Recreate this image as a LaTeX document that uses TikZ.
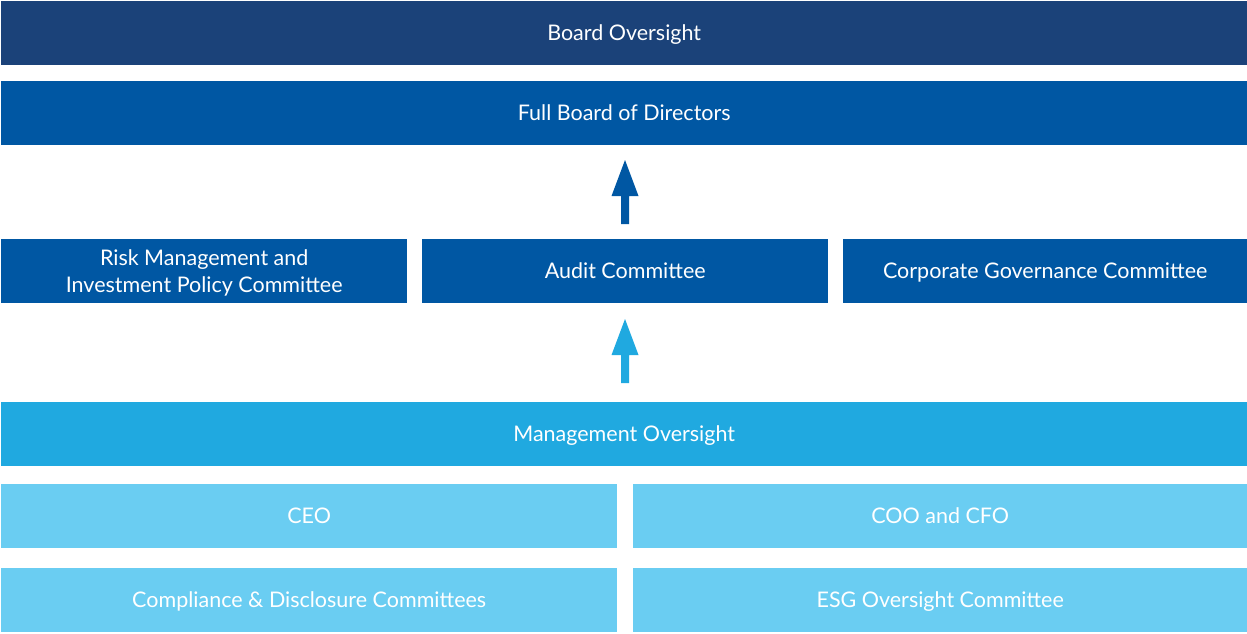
\documentclass[tikz,border=0pt]{standalone}
\usepackage{fontspec}
\setmainfont{Lato}
\definecolor{navy}{HTML}{1B4279}
\definecolor{blue}{HTML}{0057A3}
\definecolor{sky}{HTML}{20A9E0}
\definecolor{light}{HTML}{6ACDF2}
\tikzset{
  box/.style={fill=#1, text=white, font=\fontsize{21.5}{27}\selectfont, align=center, inner sep=0pt, anchor=north west, text height=15.5pt, text depth=0pt}
}
\begin{document}
\begin{tikzpicture}[x=1pt,y=-1pt]
\useasboundingbox (0,0) rectangle (1247,633);
\newcommand{\bx}[8][]{\node[box=#8, minimum width={(#4-#2)*1pt}, minimum height={(#5-#3)*1pt}, #1] (#6) at (#2,#3) {#7};}
\bx{1}{1}{1247}{65}{board}{Board Oversight}{navy}
\bx{1}{81}{1247}{145}{full}{Full Board of Directors}{blue}
\bx[text height=42.5pt]{1}{239}{407}{303}{risk}{Risk Management and\\Investment Policy Committee}{blue}
\bx{422}{239}{828}{303}{audit}{Audit Committee}{blue}
\bx{843}{239}{1247}{303}{corp}{Corporate Governance Committee}{blue}
\bx{1}{402}{1247}{466}{mgmt}{Management Oversight}{sky}
\bx{1}{484}{617}{548}{ceo}{CEO}{light}
\bx{633}{484}{1247}{548}{coo}{COO and CFO}{light}
\bx{1}{568}{617}{632}{comp}{Compliance \& Disclosure Committees}{light}
\bx{633}{568}{1247}{632}{esg}{ESG Oversight Committee}{light}
% arrows
\fill[blue] (621,224) -- (621,196) -- (611.5,196) -- (625,160) -- (638.5,196) -- (629,196) -- (629,224) -- cycle;
\fill[sky] (621,383) -- (621,355) -- (611.5,355) -- (625,319) -- (638.5,355) -- (629,355) -- (629,383) -- cycle;
\end{tikzpicture}
\end{document}
